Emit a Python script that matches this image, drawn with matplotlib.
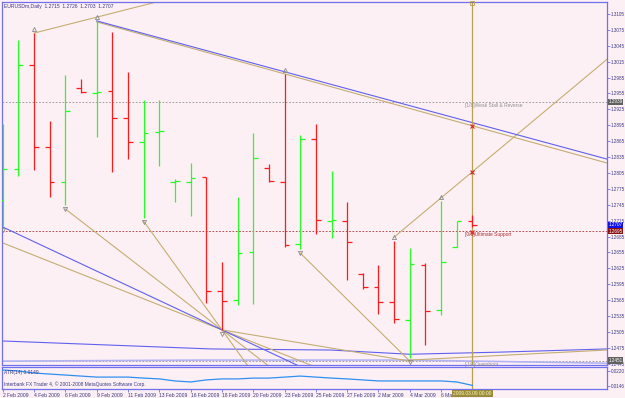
import matplotlib
matplotlib.use("Agg")
import matplotlib.pyplot as plt
import matplotlib.transforms as mtransforms
import numpy as np

plt.rcParams['font.family'] = ['Liberation Sans', 'DejaVu Sans']

# EURUSDm daily, 2 Feb .. 9 Mar 2009 (broker also sends Sunday bars)
date_labels = ['2 Feb 2009', '4 Feb 2009', '6 Feb 2009', '9 Feb 2009', '11 Feb 2009',
               '13 Feb 2009', '16 Feb 2009', '18 Feb 2009', '20 Feb 2009', '23 Feb 2009',
               '25 Feb 2009', '27 Feb 2009', '2 Mar 2009', '4 Mar 2009', '6 Mar 2009']
opens = [1.2754, 1.2813, 1.3009, 1.2854, 1.2788, 1.2965, 1.2956, 1.2960, 1.2909, 1.2863,
         1.2882, 1.2788, 1.2788, 1.2797, 1.2582, 1.2565, 1.2656, 1.2814, 1.2788, 1.2671,
         1.2869, 1.2715, 1.2714, 1.2614, 1.2590, 1.2562, 1.2528, 1.2632, 1.2547, 1.2665,
         1.2715]
highs = [1.2897, 1.3056, 1.3069, 1.2903, 1.2990, 1.2982, 1.3092, 1.3071, 1.2996, 1.2943,
         1.2943, 1.2794, 1.2824, 1.2797, 1.2637, 1.2760, 1.2880, 1.2822, 1.2992, 1.2877,
         1.2897, 1.2809, 1.2750, 1.2616, 1.2631, 1.2677, 1.2663, 1.2635, 1.2752, 1.2714,
         1.2726]
lows = [1.2705, 1.2799, 1.2811, 1.2760, 1.2745, 1.2956, 1.2873, 1.2807, 1.2831, 1.2720,
        1.2818, 1.2750, 1.2724, 1.2560, 1.2509, 1.2556, 1.2558, 1.2788, 1.2665, 1.2662,
        1.2690, 1.2682, 1.2603, 1.2586, 1.2539, 1.2522, 1.2456, 1.2480, 1.2537, 1.2665,
        1.2703]
closes = [1.2813, 1.3009, 1.2854, 1.2788, 1.2922, 1.2958, 1.2958, 1.2909, 1.2863, 1.2880,
          1.2884, 1.2790, 1.2796, 1.2582, 1.2563, 1.2654, 1.2833, 1.2790, 1.2669, 1.2869,
          1.2716, 1.2717, 1.2675, 1.2590, 1.2562, 1.2530, 1.2633, 1.2545, 1.2637, 1.2714,
          1.2707]
atr = [0.0225, 0.0220, 0.0210, 0.0205, 0.0200, 0.0195, 0.0190, 0.0190, 0.0190, 0.0185,
       0.0181, 0.0171, 0.0166, 0.0176, 0.0181, 0.0181, 0.0185, 0.0185, 0.0190, 0.0195,
       0.0190, 0.0185, 0.0181, 0.0176, 0.0171, 0.0171, 0.0171, 0.0171, 0.0171, 0.0166,
       0.0149]

# Murrey math levels
mm_levels = [1.2939, 1.2695, 1.2451]
mm_labels = ['[1/8]Weak Stall & Reverse', '[0/8]Ultimate Support', '[-1/8]Overshoot']

# trend lines (bar, price, bar, price)
tan_rays = [(2, 1.3069, 6, 1.3099), (6, 1.3090, 18, 1.2992), (25, 1.2684, 28, 1.2758)]
blue_rays = [(6, 1.3092, 18, 1.2996)]
fan_pivot = (14, 1.2509)
fan_tan_from = [(4, 1.2737), (9, 1.2714), (0, 1.2673)]
fan_blue_from = [(0, 1.2703)]
tan_segments = [(19, 1.2654, 26, 1.2450), (14, 1.2509, 26, 1.2450), (26, 1.2452, 38.6, 1.2471)]
band_x = [0, 13.3, 20.9, 26.0, 31.8, 38.6]
band_y = [1.2488, 1.2473, 1.2471, 1.2463, 1.2467, 1.2473]
lav_x = [0, 13, 26, 38.6]
lav_y = [1.2450, 1.2452, 1.2452, 1.2446]

bg = '#fdf0f5'
frame = '#7070ee'
txt = '#3a3a80'
tan = '#c4ae72'
blue = '#6060ee'
XMAX = 38.6
YMIN, YMAX = 1.24427, 1.31276

fig = plt.figure(figsize=(6.25, 3.98), dpi=100)
fig.patch.set_facecolor(bg)
ax = fig.add_axes([2 / 625, 1 - 365 / 398, 605 / 625, 363 / 398])
ax2 = fig.add_axes([2 / 625, 1 - 389 / 398, 605 / 625, 22 / 398])
for a in (ax, ax2):
    a.set_facecolor(bg)
    for s in a.spines.values():
        s.set_color(frame)
        s.set_linewidth(0.9)
    a.set_xlim(-0.05, XMAX)
ax.set_ylim(YMIN, YMAX)
ax2.set_ylim(0.01313, 0.02397)


def extend(x1, y1, x2, y2, xe):
    k = (y2 - y1) / (x2 - x1)
    return y1 + k * (xe - x1)


# murrey lines
for lvl, lab, col in zip(mm_levels, mm_labels, ['#909090', '#a83030', '#909090']):
    ax.axhline(lvl, color=col, lw=0.6, ls=(0, (2, 2)), zorder=1)
    ax.text(29.5, lvl - 0.0002, lab, color=col, fontsize=3.5, va='top', ha='left', zorder=4)

# background bands near the bottom
ax.plot(band_x, band_y, color=blue, lw=0.8, zorder=2)
ax.plot(lav_x, lav_y, color='#b4b4f4', lw=1.2, zorder=2)

for x1, y1, x2, y2 in tan_rays:
    ax.plot([x1, XMAX], [y1, extend(x1, y1, x2, y2, XMAX)], color=tan, lw=0.8, zorder=2)
for x1, y1, x2, y2 in blue_rays:
    ax.plot([x1, XMAX], [y1, extend(x1, y1, x2, y2, XMAX)], color=blue, lw=0.8, zorder=2)
px, py = fan_pivot
for fx, fy in fan_tan_from:
    ax.plot([fx, XMAX], [fy, extend(fx, fy, px, py, XMAX)], color=tan, lw=0.8, zorder=2)
for fx, fy in fan_blue_from:
    ax.plot([fx, XMAX], [fy, extend(fx, fy, px, py, XMAX)], color=blue, lw=0.8, zorder=2)
for x1, y1, x2, y2 in tan_segments:
    ax.plot([x1, x2], [y1, y2], color=tan, lw=0.8, zorder=2)

# OHLC bars
xs = np.arange(len(opens))
for i in xs:
    c = '#22ff22' if closes[i] >= opens[i] else '#ff1a1a'
    ax.vlines(i, lows[i], highs[i], color=c, lw=0.9, zorder=3)
    ax.hlines(opens[i], i - 0.3, i, color=c, lw=0.9, zorder=3)
    ax.hlines(closes[i], i, i + 0.3, color=c, lw=0.9, zorder=3)

# fractal marks
for i in [2, 6, 18, 25, 28]:
    ax.plot(i, highs[i] + 0.0008, marker='^', ms=3, mfc='none', mec='#8a8a8a', mew=0.6, zorder=4)
for i in [0, 4, 9, 14, 19, 26]:
    ax.plot(i, lows[i] - 0.0008, marker='v', ms=3, mfc='none', mec='#8a8a8a', mew=0.6, zorder=4)

# current bar vertical line
last = len(opens) - 1
ax.axvline(last, color='#b8a050', lw=0.9, zorder=2)
ax2.axvline(last, color='#b8a050', lw=0.9, zorder=2)
ax.plot(last, YMAX - 0.0002, marker='s', ms=2.5, mfc='none', mec='#b8a050', mew=0.6, clip_on=False, zorder=5)
crosses = [extend(*tan_rays[1], last), extend(*tan_rays[2], last), mm_levels[1] - 0.0002]
ax.plot([last] * 3, crosses, ls='none', marker='x', ms=2.5, mec='#e02020', mew=0.8, zorder=5)

# right price scale
ax.yaxis.tick_right()
ticks = np.round(np.arange(1.3105, 1.2440, -0.003), 4)
ax.set_yticks(ticks)
ax.set_yticklabels([f'{t:.4f}' for t in ticks])
ax.tick_params(axis='y', labelsize=3.3, labelcolor=txt, color=frame, length=2, pad=0.8, width=0.6)
ax.set_xticks([])

tr = mtransforms.blended_transform_factory(ax.transAxes, ax.transData)
for val, fc in [(mm_levels[0], '#606060'), (closes[-1], '#1010f0'), (mm_levels[1], '#8b1010'), (mm_levels[2], '#606060')]:
    ax.text(1.002, val, f'{val:.4f}', transform=tr, fontsize=3.3, color='white', va='center', ha='left',
            bbox=dict(boxstyle='square,pad=0.15', fc=fc, ec='none'), clip_on=False, zorder=6)

ax.text(0.004, 0.994, 'EURUSDm,Daily  1.2715  1.2726  1.2703  1.2707', transform=ax.transAxes,
        fontsize=3.6, color=txt, va='top', ha='left')

# indicator window
ax2.plot(xs, atr, color='#2e8ff0', lw=0.9, zorder=3)
ax2.yaxis.tick_right()
ax2.set_yticks([0.0220, 0.0146])
ax2.set_yticklabels(['0.0220', '0.0146'])
ax2.tick_params(axis='y', labelsize=3.3, labelcolor=txt, color=frame, length=2, pad=0.8, width=0.6)
ax2.set_xticks(np.arange(0, 30, 2))
ax2.set_xticklabels(date_labels, ha='left')
ax2.tick_params(axis='x', labelsize=3.6, labelcolor=txt, color=frame, length=2, pad=1.2, width=0.6)
ax2.text(0.004, 0.88, 'ATR(14) 0.0149', transform=ax2.transAxes, fontsize=3.5, color=txt, va='top')
ax2.text(0.004, 0.22, 'Interbank FX Trader 4, \u00a9 2001-2008 MetaQuotes Software Corp.',
         transform=ax2.transAxes, fontsize=3.5, color=txt, va='center')
trx = mtransforms.blended_transform_factory(ax2.transData, ax2.transAxes)
ax2.text(last, -0.1, '2009.03.09 00:00', transform=trx, fontsize=3.5, color='#fff8c0', ha='center',
         va='top', bbox=dict(boxstyle='square,pad=0.2', fc='#9a8c3a', ec='none'), clip_on=False, zorder=10)

fig.savefig('out.png', dpi=100, facecolor=bg)
